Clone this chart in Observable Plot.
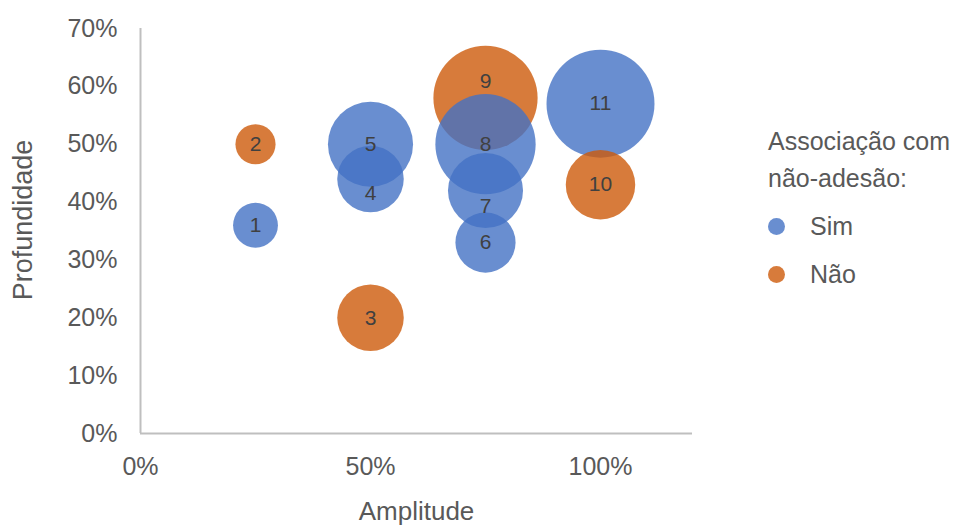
<!DOCTYPE html>
<html>
<head>
<meta charset="utf-8">
<script src="https://cdn.jsdelivr.net/npm/d3@7"></script>
<script src="https://cdn.jsdelivr.net/npm/@observablehq/plot@0.6"></script>
<style>
  body { margin: 0; background: #fff; }
  #wrap { position: relative; width: 960px; height: 526px; font-family: "Liberation Sans", Arial, sans-serif; }
  #chart { position: absolute; left: 0; top: 0; }
  #legend { position: absolute; left: 768px; top: 123px; color: #595959; font-size: 25px; line-height: 37px; }
  #legend .item { display: flex; align-items: center; margin-top: 10px; height: 38px; }
  #legend .sw { width: 17px; height: 17px; border-radius: 50%; margin-right: 25px; }
</style>
</head>
<body>
<div id="wrap">
  <div id="chart"></div>
  <div id="legend"></div>
</div>
<script>
// Bubble chart: amplitude vs. depth, bubble size = weight, colour = association with non-adherence
const ids          = [1, 2, 3, 4, 5, 6, 7, 8, 9, 10, 11];
const amplitude    = [0.25, 0.25, 0.50, 0.50, 0.50, 0.75, 0.75, 0.75, 0.75, 1.00, 1.00];
const profundidade = [0.36, 0.50, 0.20, 0.44, 0.50, 0.33, 0.42, 0.50, 0.58, 0.43, 0.57];
const tamanho      = [5, 4, 11, 11, 18, 9, 14, 25, 27, 12, 29];
const associacao   = ["Sim", "Não", "Não", "Sim", "Sim", "Sim", "Sim", "Sim", "Não", "Não", "Sim"];

const categorias = ["Sim", "Não"];
const cores = ["#4472C4", "#CD5A0A"];
const xTicks = [0, 0.5, 1];
const yTicks = [0, 0.1, 0.2, 0.3, 0.4, 0.5, 0.6, 0.7];

const rows = ids.map((id, i) => ({
  id, x: amplitude[i], y: profundidade[i], size: tamanho[i], grupo: associacao[i]
}));

// small label nudges (px) where bubbles overlap
const labelNudge = {4: 14, 7: 16, 9: -17};

const pct = d3.format(".0%");
const axisColor = "#595959";
const labelStyle = { x: "x", y: "y", text: "id", fill: "#404040", fontSize: 21 };

const chart = Plot.plot({
  width: 740,
  height: 526,
  marginLeft: 140,
  marginRight: 48,
  marginTop: 28,
  marginBottom: 93,
  style: { fontFamily: "Liberation Sans, Arial, sans-serif", background: "white" },
  x: { domain: [0, 1.2], label: null },
  y: { domain: [0, 0.7], label: null },
  r: { domain: [0, 29], range: [0, 54] },
  color: { domain: categorias, range: cores },
  marks: [
    Plot.axisX({ ticks: xTicks, tickFormat: pct, tickSize: 0, tickPadding: 24, fontSize: 25, color: axisColor, label: null }),
    Plot.axisY({ ticks: yTicks, tickFormat: pct, tickSize: 0, tickPadding: 23, fontSize: 25, color: axisColor, label: null }),
    Plot.dot(rows, { x: "x", y: "y", r: "size", fill: "grupo", fillOpacity: 0.8, stroke: "none" }),
    Plot.text(rows, { ...labelStyle, filter: d => labelNudge[d.id] == null }),
    ...Object.entries(labelNudge).map(([id, dy]) =>
      Plot.text(rows, { ...labelStyle, filter: d => d.id === +id, dy })
    ),
    Plot.ruleX([0], { stroke: "#BFBFBF", strokeWidth: 2 }),
    Plot.ruleY([0], { stroke: "#BFBFBF", strokeWidth: 2 }),
    Plot.text(["Amplitude"], { frameAnchor: "bottom", lineAnchor: "middle", dy: 78, fontSize: 26, fill: axisColor }),
    Plot.text(["Profundidade"], { frameAnchor: "left", textAnchor: "middle", dx: -117, dy: -11, rotate: -90, fontSize: 27, fill: axisColor })
  ]
});

document.getElementById("chart").appendChild(chart);

const legend = document.getElementById("legend");
legend.innerHTML = `<div>Associação com</div><div>não-adesão:</div>` +
  categorias.map((c, i) =>
    `<div class="item"><span class="sw" style="background:${cores[i]};opacity:0.8"></span><span>${c}</span></div>`
  ).join("");
</script>
</body>
</html>
